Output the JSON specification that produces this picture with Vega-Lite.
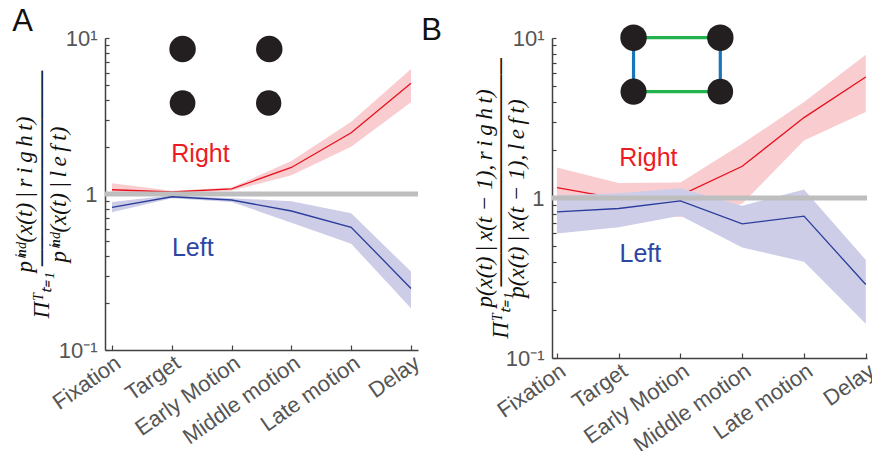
{
  "$schema": "https://vega.github.io/schema/vega-lite/v6.json",
  "padding": {"left": 12, "top": 6, "right": 0, "bottom": 0},
  "background": "white",
  "spacing": -3,
  "datasets": {
    "series": [
      {"panel": "A", "series": "Right", "stage": 0, "mean": 1.065, "lo": 0.99, "hi": 1.17},
      {"panel": "A", "series": "Right", "stage": 1, "mean": 1.03, "lo": 1.01, "hi": 1.05},
      {"panel": "A", "series": "Right", "stage": 2, "mean": 1.08, "lo": 1.05, "hi": 1.10},
      {"panel": "A", "series": "Right", "stage": 3, "mean": 1.48, "lo": 1.32, "hi": 1.63},
      {"panel": "A", "series": "Right", "stage": 4, "mean": 2.47, "lo": 2.01, "hi": 2.91},
      {"panel": "A", "series": "Right", "stage": 5, "mean": 5.12, "lo": 3.87, "hi": 6.33},
      {"panel": "A", "series": "Left", "stage": 0, "mean": 0.82, "lo": 0.763, "hi": 0.89},
      {"panel": "A", "series": "Left", "stage": 1, "mean": 0.96, "lo": 0.94, "hi": 0.98},
      {"panel": "A", "series": "Left", "stage": 2, "mean": 0.915, "lo": 0.89, "hi": 0.94},
      {"panel": "A", "series": "Left", "stage": 3, "mean": 0.778, "lo": 0.655, "hi": 0.90},
      {"panel": "A", "series": "Left", "stage": 4, "mean": 0.612, "lo": 0.48, "hi": 0.752},
      {"panel": "A", "series": "Left", "stage": 5, "mean": 0.248, "lo": 0.185, "hi": 0.318},
      {"panel": "B", "series": "Right", "stage": 0, "mean": 1.16, "lo": 0.88, "hi": 1.55},
      {"panel": "B", "series": "Right", "stage": 1, "mean": 0.99, "lo": 0.82, "hi": 1.24},
      {"panel": "B", "series": "Right", "stage": 2, "mean": 1.04, "lo": 0.76, "hi": 1.25},
      {"panel": "B", "series": "Right", "stage": 3, "mean": 1.58, "lo": 0.92, "hi": 2.18},
      {"panel": "B", "series": "Right", "stage": 4, "mean": 3.18, "lo": 2.29, "hi": 3.98},
      {"panel": "B", "series": "Right", "stage": 5, "mean": 5.7, "lo": 3.45, "hi": 7.86},
      {"panel": "B", "series": "Left", "stage": 0, "mean": 0.82, "lo": 0.6, "hi": 1.035},
      {"panel": "B", "series": "Left", "stage": 1, "mean": 0.86, "lo": 0.656, "hi": 1.07},
      {"panel": "B", "series": "Left", "stage": 2, "mean": 0.96, "lo": 0.775, "hi": 1.15},
      {"panel": "B", "series": "Left", "stage": 3, "mean": 0.69, "lo": 0.49, "hi": 0.895},
      {"panel": "B", "series": "Left", "stage": 4, "mean": 0.77, "lo": 0.4, "hi": 1.13},
      {"panel": "B", "series": "Left", "stage": 5, "mean": 0.288, "lo": 0.164, "hi": 0.41}
    ],
    "ref": [{"y": 1}],
    "labels": [
      {"panel": "A", "text": "Right", "x": 1.48, "y": 1.8, "c": "#ec1c24"},
      {"panel": "A", "text": "Left", "x": 1.35, "y": 0.45, "c": "#2d46a3"},
      {"panel": "B", "text": "Right", "x": 1.48, "y": 1.78, "c": "#ec1c24"},
      {"panel": "B", "text": "Left", "x": 1.35, "y": 0.447, "c": "#2d46a3"}
    ],
    "dots": [
      {"panel": "A", "x": 1.18, "y": 8.5, "s": 700},
      {"panel": "A", "x": 2.63, "y": 8.5, "s": 700},
      {"panel": "A", "x": 1.18, "y": 3.83, "s": 660},
      {"panel": "A", "x": 2.62, "y": 3.83, "s": 640},
      {"panel": "B", "x": 1.24, "y": 10.05, "s": 700},
      {"panel": "B", "x": 2.645, "y": 10.05, "s": 700},
      {"panel": "B", "x": 1.24, "y": 4.62, "s": 680},
      {"panel": "B", "x": 2.645, "y": 4.62, "s": 660}
    ],
    "links": [
      {"x": 1.24, "x2": 2.645, "y": 10.05, "y2": 10.05, "c": "#22b14c"},
      {"x": 1.24, "x2": 2.645, "y": 4.62, "y2": 4.62, "c": "#22b14c"},
      {"x": 1.24, "x2": 1.24, "y": 10.05, "y2": 4.62, "c": "#1b75bb"},
      {"x": 2.645, "x2": 2.645, "y": 10.05, "y2": 4.62, "c": "#1b75bb"}
    ]
  },
  "hconcat": [
    {
      "width": 313,
      "height": 312,
      "title": {"text": "A", "dx": -1, "offset": -11},
      "resolve": {"axis": {"x": "independent", "y": "independent"}},
      "layer": [
        {
          "data": {"name": "series"},
          "transform": [{"filter": "datum.panel == 'A' && datum.series == 'Right'"}],
          "mark": {"type": "area", "color": "#f9cdd0", "opacity": 1},
          "encoding": {
            "x": {"field": "stage", "type": "quantitative",
              "scale": {"domain": [-0.117, 5.117], "nice": false, "zero": false},
              "axis": {"values": [0, 1, 2, 3, 4, 5],
                "labelExpr": "['Fixation','Target','Early Motion','Middle motion','Late motion','Delay'][datum.value]",
                "labelAngle": -35, "labelAlign": "right", "labelBaseline": "top",
                "tickSize": -5, "labelPadding": 7, "labelOverlap": false, "labelFlush": false, "title": null}},
            "y": {"field": "lo", "type": "quantitative",
              "scale": {"type": "log", "domain": [0.1, 10], "nice": false},
              "axis": {"values": [0.1, 0.2, 0.3, 0.4, 0.5, 0.6, 0.7, 0.8, 0.9, 1, 2, 3, 4, 5, 6, 7, 8, 9, 10],
                "labelExpr": "datum.value == 10 ? '10¹' : datum.value == 1 ? '1' : datum.value == 0.1 ? '10⁻¹' : ''",
                "tickSize": -4, "labelPadding": 12, "labelOverlap": false, "labelFlush": false,
                "title": ["\u2003\u2003pⁱⁿᵈ(x(t)\u2009|\u2009r\u2009i\u2009g\u2009h\u2009t)", "Πᵀₜ₌₁ ────────────", "\u2003\u2003pⁱⁿᵈ(x(t)\u2009|\u2009l\u2009e\u2009f\u2009t)"],
                "titleFontSize": 23, "titleFontStyle": "italic", "titleLineHeight": 17, "titlePadding": -12}},
            "y2": {"field": "hi"}
          }
        },
        {
          "data": {"name": "series"},
          "transform": [{"filter": "datum.panel == 'A' && datum.series == 'Right'"}],
          "mark": {"type": "line", "color": "#e8101c", "strokeWidth": 1.3},
          "encoding": {
            "x": {"field": "stage", "type": "quantitative", "scale": {"domain": [-0.117, 5.117], "nice": false, "zero": false}, "axis": null},
            "y": {"field": "mean", "type": "quantitative", "scale": {"type": "log", "domain": [0.1, 10], "nice": false}, "axis": null}
          }
        },
        {
          "data": {"name": "series"},
          "transform": [{"filter": "datum.panel == 'A' && datum.series == 'Left'"}],
          "mark": {"type": "area", "color": "#cdcde8", "opacity": 1},
          "encoding": {
            "x": {"field": "stage", "type": "quantitative", "scale": {"domain": [-0.117, 5.117], "nice": false, "zero": false}, "axis": null},
            "y": {"field": "lo", "type": "quantitative", "scale": {"type": "log", "domain": [0.1, 10], "nice": false}, "axis": null},
            "y2": {"field": "hi"}
          }
        },
        {
          "data": {"name": "ref"},
          "mark": {"type": "rule", "color": "#bebebe", "strokeWidth": 5},
          "encoding": {"y": {"field": "y", "type": "quantitative", "scale": {"type": "log", "domain": [0.1, 10], "nice": false}, "axis": null}}
        },
        {
          "data": {"name": "series"},
          "transform": [{"filter": "datum.panel == 'A' && datum.series == 'Left'"}],
          "mark": {"type": "line", "color": "#2a3d9a", "strokeWidth": 1.3},
          "encoding": {
            "x": {"field": "stage", "type": "quantitative", "scale": {"domain": [-0.117, 5.117], "nice": false, "zero": false}, "axis": null},
            "y": {"field": "mean", "type": "quantitative", "scale": {"type": "log", "domain": [0.1, 10], "nice": false}, "axis": null}
          }
        },
        {
          "data": {"name": "labels"},
          "transform": [{"filter": "datum.panel == 'A'"}],
          "mark": {"type": "text", "font": "Liberation Sans", "fontSize": 25, "align": "center", "baseline": "middle"},
          "encoding": {
            "x": {"field": "x", "type": "quantitative", "scale": {"domain": [-0.117, 5.117], "nice": false, "zero": false}, "axis": null},
            "y": {"field": "y", "type": "quantitative", "scale": {"type": "log", "domain": [0.1, 10], "nice": false}, "axis": null},
            "text": {"field": "text"},
            "color": {"field": "c", "type": "nominal", "scale": null}
          }
        },
        {
          "data": {"name": "dots"},
          "transform": [{"filter": "datum.panel == 'A'"}],
          "mark": {"type": "point", "filled": true, "shape": "circle", "opacity": 1, "color": "#231f20", "clip": false},
          "encoding": {
            "x": {"field": "x", "type": "quantitative", "scale": {"domain": [-0.117, 5.117], "nice": false, "zero": false}, "axis": null},
            "y": {"field": "y", "type": "quantitative", "scale": {"type": "log", "domain": [0.1, 10], "nice": false}, "axis": null},
            "size": {"field": "s", "type": "quantitative", "scale": null}
          }
        }
      ]
    },
    {
      "width": 315,
      "height": 320,
      "title": {"text": "B", "dx": -52, "offset": -23},
      "resolve": {"axis": {"x": "independent", "y": "independent"}},
      "layer": [
        {
          "data": {"name": "series"},
          "transform": [{"filter": "datum.panel == 'B' && datum.series == 'Right'"}],
          "mark": {"type": "area", "color": "#f9cdd0", "opacity": 1},
          "encoding": {
            "x": {"field": "stage", "type": "quantitative",
              "scale": {"domain": [-0.08, 5.02], "nice": false, "zero": false},
              "axis": {"values": [0, 1, 2, 3, 4, 5],
                "labelExpr": "['Fixation','Target','Early Motion','Middle motion','Late motion','Delay'][datum.value]",
                "labelAngle": -35, "labelAlign": "right", "labelBaseline": "top",
                "tickSize": -5, "labelPadding": 7, "labelOverlap": false, "labelFlush": false, "title": null}},
            "y": {"field": "lo", "type": "quantitative",
              "scale": {"type": "log", "domain": [0.1, 10], "nice": false},
              "axis": {"values": [0.1, 0.2, 0.3, 0.4, 0.5, 0.6, 0.7, 0.8, 0.9, 1, 2, 3, 4, 5, 6, 7, 8, 9, 10],
                "labelExpr": "datum.value == 10 ? '10¹' : datum.value == 1 ? '1' : datum.value == 0.1 ? '10⁻¹' : ''",
                "tickSize": -4, "labelPadding": 12, "labelOverlap": false, "labelFlush": false,
                "title": ["\u2003\u2003\u2003p(x(t)\u2009|\u2009x(t − 1),\u2009r\u2009i\u2009g\u2009h\u2009t)", "Πᵀₜ₌₁ ──────────────", "\u2003\u2003\u2003p(x(t)\u2009|\u2009x(t − 1),\u2009l\u2009e\u2009f\u2009t)"],
                "titleFontSize": 23, "titleFontStyle": "italic", "titleLineHeight": 16, "titlePadding": -23}},
            "y2": {"field": "hi"}
          }
        },
        {
          "data": {"name": "series"},
          "transform": [{"filter": "datum.panel == 'B' && datum.series == 'Right'"}],
          "mark": {"type": "line", "color": "#e8101c", "strokeWidth": 1.3},
          "encoding": {
            "x": {"field": "stage", "type": "quantitative", "scale": {"domain": [-0.08, 5.02], "nice": false, "zero": false}, "axis": null},
            "y": {"field": "mean", "type": "quantitative", "scale": {"type": "log", "domain": [0.1, 10], "nice": false}, "axis": null}
          }
        },
        {
          "data": {"name": "series"},
          "transform": [{"filter": "datum.panel == 'B' && datum.series == 'Left'"}],
          "mark": {"type": "area", "color": "#cdcde8", "opacity": 1},
          "encoding": {
            "x": {"field": "stage", "type": "quantitative", "scale": {"domain": [-0.08, 5.02], "nice": false, "zero": false}, "axis": null},
            "y": {"field": "lo", "type": "quantitative", "scale": {"type": "log", "domain": [0.1, 10], "nice": false}, "axis": null},
            "y2": {"field": "hi"}
          }
        },
        {
          "data": {"name": "ref"},
          "mark": {"type": "rule", "color": "#bebebe", "strokeWidth": 5},
          "encoding": {"y": {"field": "y", "type": "quantitative", "scale": {"type": "log", "domain": [0.1, 10], "nice": false}, "axis": null}}
        },
        {
          "data": {"name": "series"},
          "transform": [{"filter": "datum.panel == 'B' && datum.series == 'Left'"}],
          "mark": {"type": "line", "color": "#2a3d9a", "strokeWidth": 1.3},
          "encoding": {
            "x": {"field": "stage", "type": "quantitative", "scale": {"domain": [-0.08, 5.02], "nice": false, "zero": false}, "axis": null},
            "y": {"field": "mean", "type": "quantitative", "scale": {"type": "log", "domain": [0.1, 10], "nice": false}, "axis": null}
          }
        },
        {
          "data": {"name": "labels"},
          "transform": [{"filter": "datum.panel == 'B'"}],
          "mark": {"type": "text", "font": "Liberation Sans", "fontSize": 25, "align": "center", "baseline": "middle"},
          "encoding": {
            "x": {"field": "x", "type": "quantitative", "scale": {"domain": [-0.08, 5.02], "nice": false, "zero": false}, "axis": null},
            "y": {"field": "y", "type": "quantitative", "scale": {"type": "log", "domain": [0.1, 10], "nice": false}, "axis": null},
            "text": {"field": "text"},
            "color": {"field": "c", "type": "nominal", "scale": null}
          }
        },
        {
          "data": {"name": "links"},
          "mark": {"type": "rule", "strokeWidth": 3.2, "clip": false},
          "encoding": {
            "x": {"field": "x", "type": "quantitative", "scale": {"domain": [-0.08, 5.02], "nice": false, "zero": false}, "axis": null},
            "x2": {"field": "x2"},
            "y": {"field": "y", "type": "quantitative", "scale": {"type": "log", "domain": [0.1, 10], "nice": false}, "axis": null},
            "y2": {"field": "y2"},
            "color": {"field": "c", "type": "nominal", "scale": null}
          }
        },
        {
          "data": {"name": "dots"},
          "transform": [{"filter": "datum.panel == 'B'"}],
          "mark": {"type": "point", "filled": true, "shape": "circle", "opacity": 1, "color": "#231f20", "clip": false},
          "encoding": {
            "x": {"field": "x", "type": "quantitative", "scale": {"domain": [-0.08, 5.02], "nice": false, "zero": false}, "axis": null},
            "y": {"field": "y", "type": "quantitative", "scale": {"type": "log", "domain": [0.1, 10], "nice": false}, "axis": null},
            "size": {"field": "s", "type": "quantitative", "scale": null}
          }
        }
      ]
    }
  ],
  "config": {
    "view": {"stroke": null},
    "axis": {"grid": false, "domainColor": "#404040", "domainWidth": 1.5, "tickColor": "#404040", "tickWidth": 1.2,
      "labelColor": "#555555", "labelFont": "Liberation Sans", "labelFontSize": 22,
      "titleFont": "Liberation Serif", "titleFontWeight": "normal", "titleColor": "#111111"},
    "title": {"font": "Liberation Sans", "fontSize": 31, "fontWeight": "normal", "anchor": "start", "frame": "bounds", "color": "#111111"}
  }
}
